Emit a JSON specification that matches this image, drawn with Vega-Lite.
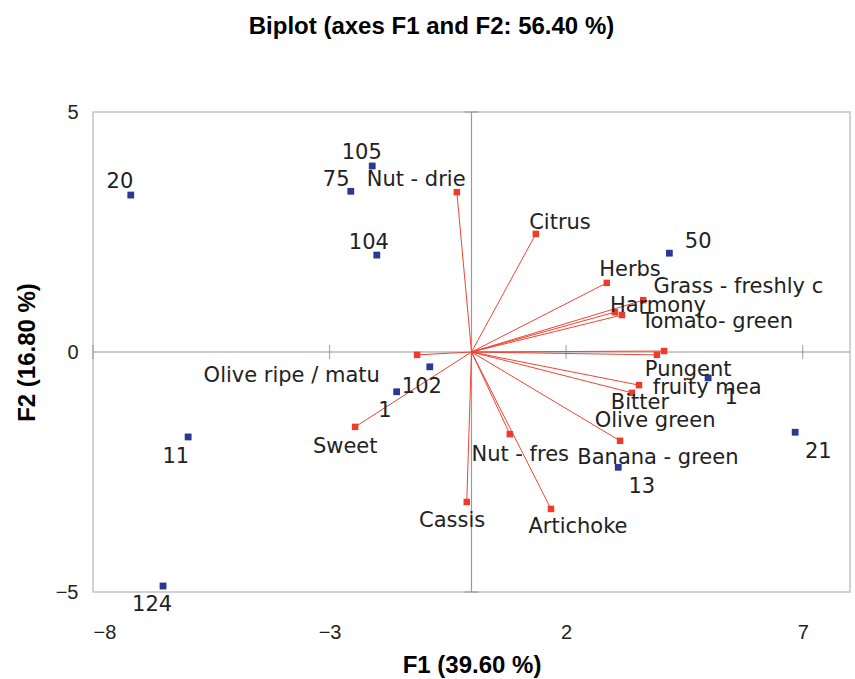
{
  "$schema": "https://vega.github.io/schema/vega-lite/v6.json",
  "autosize": "none",
  "width": 757,
  "height": 480,
  "padding": {"left": 93, "top": 112, "right": 5, "bottom": 87},
  "background": "white",
  "title": {"text": "Biplot (axes F1 and F2: 56.40 %)", "font": "Liberation Sans", "fontSize": 24, "fontWeight": "bold", "color": "#000000", "anchor": "middle", "dx": -40, "offset": 63},
  "config": {
    "view": {"stroke": "#c4c4c4", "strokeWidth": 1.5},
    "axis": {"grid": false, "domain": false, "ticks": false, "labelColor": "#222222", "titleColor": "#000000"}
  },
  "datasets": {
    "obs": [
      {"name": "20", "x": -7.2, "y": 3.27, "lx": -7.43, "ly": 3.54},
      {"name": "105", "x": -2.1, "y": 3.875, "lx": -2.32, "ly": 4.15},
      {"name": "75", "x": -2.55, "y": 3.35, "lx": -2.86, "ly": 3.58},
      {"name": "104", "x": -2.0, "y": 2.02, "lx": -2.17, "ly": 2.27},
      {"name": "50", "x": 4.18, "y": 2.06, "lx": 4.79, "ly": 2.29},
      {"name": "102", "x": -0.88, "y": -0.31, "lx": -1.05, "ly": -0.73},
      {"name": "1", "x": -1.58, "y": -0.83, "lx": -1.83, "ly": -1.23},
      {"name": "11", "x": -5.99, "y": -1.77, "lx": -6.25, "ly": -2.19},
      {"name": "124", "x": -6.52, "y": -4.875, "lx": -6.75, "ly": -5.27},
      {"name": "13", "x": 3.1, "y": -2.4, "lx": 3.6, "ly": -2.81},
      {"name": "21", "x": 6.84, "y": -1.67, "lx": 7.33, "ly": -2.08},
      {"name": "1", "x": 5.0, "y": -0.54, "lx": 5.49, "ly": -0.96}
    ],
    "vars": [
      {"name": "Nut - drie", "x": -0.31, "y": 3.33, "lx": -1.17, "ly": 3.58},
      {"name": "Citrus", "x": 1.36, "y": 2.46, "lx": 1.87, "ly": 2.69},
      {"name": "Herbs", "x": 2.86, "y": 1.44, "lx": 3.35, "ly": 1.71},
      {"name": "Grass - freshly c", "x": 3.63, "y": 1.08, "lx": 5.64, "ly": 1.35},
      {"name": "Harmony", "x": 3.03, "y": 0.83, "lx": 3.94, "ly": 0.96},
      {"name": "Tomato- green", "x": 3.18, "y": 0.77, "lx": 5.19, "ly": 0.63},
      {"name": "Pungent", "x": 4.07, "y": 0.02, "lx": 4.58, "ly": -0.375},
      {"name": "fruity mea", "x": 3.92, "y": -0.06, "lx": 4.98, "ly": -0.75},
      {"name": "Bitter", "x": 3.54, "y": -0.69, "lx": 3.56, "ly": -1.06},
      {"name": "Olive green", "x": 3.39, "y": -0.85, "lx": 3.88, "ly": -1.44},
      {"name": "Banana - green", "x": 3.14, "y": -1.85, "lx": 3.94, "ly": -2.21},
      {"name": "Nut - fres", "x": 0.81, "y": -1.71, "lx": 1.03, "ly": -2.15},
      {"name": "Artichoke", "x": 1.68, "y": -3.27, "lx": 2.25, "ly": -3.65},
      {"name": "Cassis", "x": -0.1, "y": -3.125, "lx": -0.41, "ly": -3.52},
      {"name": "Sweet", "x": -2.46, "y": -1.56, "lx": -2.67, "ly": -1.98},
      {"name": "Olive ripe / matu", "x": -1.15, "y": -0.06, "lx": -3.8, "ly": -0.5}
    ],
    "xticks": [{"x": -8, "y": 0}, {"x": -3, "y": 0}, {"x": 2, "y": 0}, {"x": 7, "y": 0}],
    "yticks": [{"x": 0, "y": 5}, {"x": 0, "y": -5}]
  },
  "layer": [
    {
      "data": {"name": "obs"},
      "mark": {"type": "square", "size": 42, "color": "#2b3990", "opacity": 1, "filled": true},
      "encoding": {
        "x": {"field": "x", "type": "quantitative", "scale": {"domain": [-8, 8], "nice": false, "zero": false},
              "axis": {"values": [-8, -3, 2, 7], "title": "F1 (39.60 %)", "labelFont": "Liberation Sans", "labelFontSize": 20, "labelPadding": 30,
                       "titleFont": "Liberation Sans", "titleFontSize": 24, "titleFontWeight": "bold", "titlePadding": 11}},
        "y": {"field": "y", "type": "quantitative", "scale": {"domain": [-5, 5], "nice": false, "zero": false},
              "axis": {"values": [-5, 0, 5], "title": "F2 (16.80 %)", "labelFont": "Liberation Sans", "labelFontSize": 20, "labelPadding": 15,
                       "titleFont": "Liberation Sans", "titleFontSize": 24, "titleFontWeight": "bold", "titlePadding": 16}}
      }
    },
    {
      "data": {"values": [{"v": 0}]},
      "mark": {"type": "rule", "color": "#9a9a9a", "strokeWidth": 1.2},
      "encoding": {"x": {"datum": 0, "type": "quantitative"}}
    },
    {
      "data": {"values": [{"v": 0}]},
      "mark": {"type": "rule", "color": "#9a9a9a", "strokeWidth": 1.2},
      "encoding": {"y": {"datum": 0, "type": "quantitative"}}
    },
    {
      "data": {"name": "xticks"},
      "mark": {"type": "tick", "orient": "vertical", "color": "#8a8a8a", "size": 14, "thickness": 1.2},
      "encoding": {"x": {"field": "x", "type": "quantitative"}, "y": {"field": "y", "type": "quantitative"}}
    },
    {
      "data": {"name": "yticks"},
      "mark": {"type": "tick", "orient": "horizontal", "color": "#8a8a8a", "size": 14, "thickness": 1.2},
      "encoding": {"x": {"field": "x", "type": "quantitative"}, "y": {"field": "y", "type": "quantitative"}}
    },
    {
      "data": {"name": "vars"},
      "mark": {"type": "rule", "color": "#f04433", "strokeWidth": 1},
      "encoding": {
        "x": {"field": "x", "type": "quantitative"},
        "y": {"field": "y", "type": "quantitative"},
        "x2": {"datum": 0},
        "y2": {"datum": 0}
      }
    },
    {
      "data": {"name": "vars"},
      "mark": {"type": "square", "size": 42, "color": "#f03a2a", "opacity": 1, "filled": true},
      "encoding": {"x": {"field": "x", "type": "quantitative"}, "y": {"field": "y", "type": "quantitative"}}
    },
    {
      "data": {"name": "obs"},
      "mark": {"type": "square", "size": 42, "color": "#2b3990", "opacity": 1, "filled": true},
      "encoding": {"x": {"field": "x", "type": "quantitative"}, "y": {"field": "y", "type": "quantitative"}}
    },
    {
      "data": {"name": "vars"},
      "mark": {"type": "text", "font": "DejaVu Sans", "fontSize": 21, "color": "#222222", "align": "center", "baseline": "middle", "clip": false},
      "encoding": {"x": {"field": "lx", "type": "quantitative"}, "y": {"field": "ly", "type": "quantitative"}, "text": {"field": "name"}}
    },
    {
      "data": {"name": "obs"},
      "mark": {"type": "text", "font": "DejaVu Sans", "fontSize": 21, "color": "#222222", "align": "center", "baseline": "middle", "clip": false},
      "encoding": {"x": {"field": "lx", "type": "quantitative"}, "y": {"field": "ly", "type": "quantitative"}, "text": {"field": "name"}}
    }
  ]
}
